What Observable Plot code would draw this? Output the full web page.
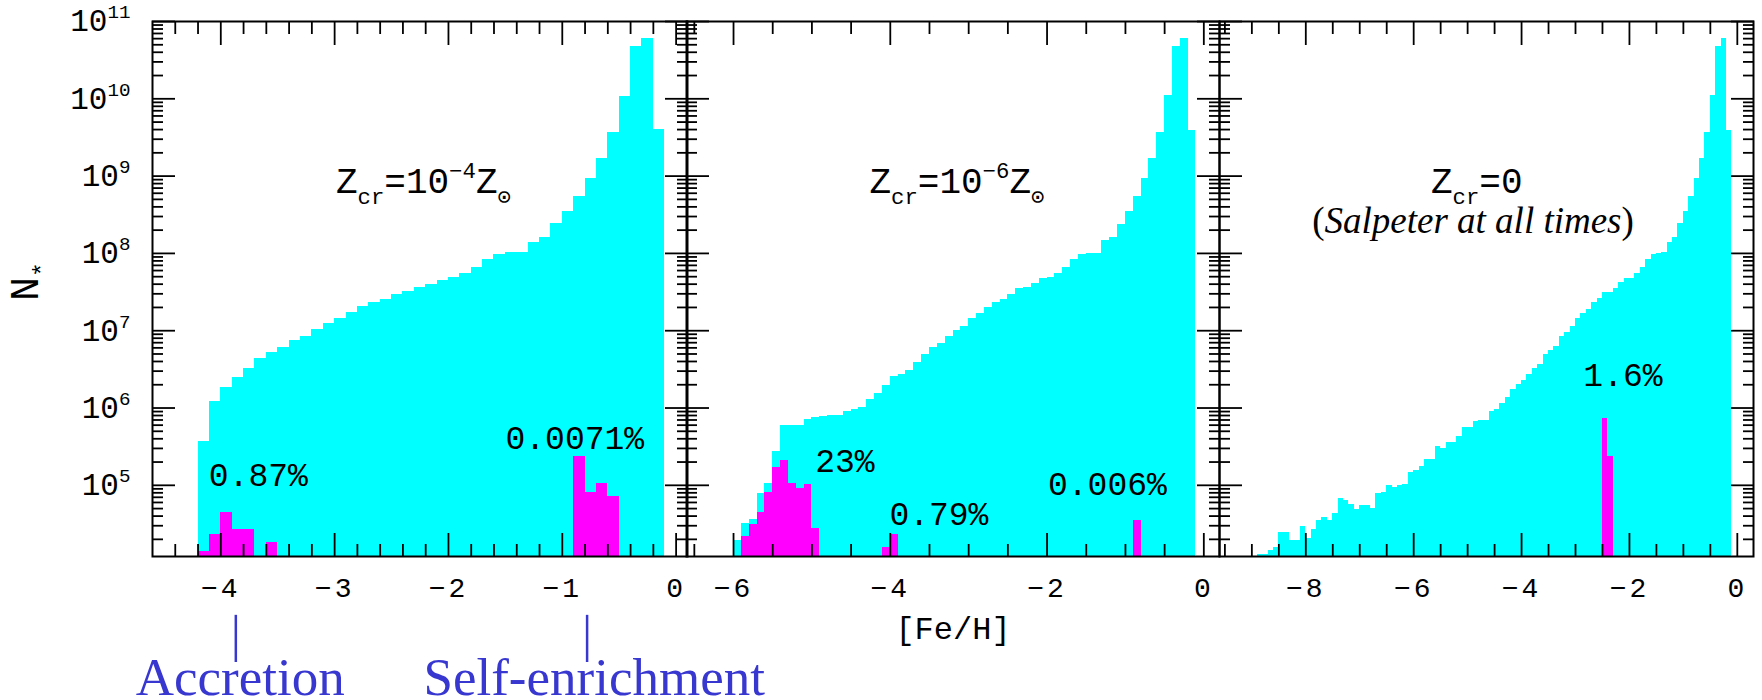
<!DOCTYPE html>
<html><head><meta charset="utf-8">
<script src="https://cdn.jsdelivr.net/npm/d3@7"></script>
<script src="https://cdn.jsdelivr.net/npm/@observablehq/plot@0.6"></script>
<style>
body{margin:0;background:#fff}
#chart{position:relative;width:1762px;height:700px;overflow:hidden;background:#fff}
#chart svg{position:absolute;top:0}
g[aria-label="x-axis tick label"] text{letter-spacing:3px}
</style></head><body><div id="chart"></div>
<script>
// ---------- data ----------
const BIN = 0.1;
const Y_MIN = 1.2e4, Y_MAX = 1e11;
const Y_MAJOR = [1e5, 1e6, 1e7, 1e8, 1e9, 1e10, 1e11];
const Y_TICK_LABELS = ["10^{5}", "10^{6}", "10^{7}", "10^{8}", "10^{9}", "10^{10}", "10^{11}"];

// Panel 1: Zcr = 1e-4 Zsun
const P1_FE = [-4.2,-4.1,-4.0,-3.9,-3.8,-3.7,-3.6,-3.5,-3.4,-3.3,-3.2,-3.1,-3.0,-2.9,-2.8,-2.7,-2.6,-2.5,-2.4,-2.3,-2.2,-2.1,-2.0,-1.9,-1.8,-1.7,-1.6,-1.5,-1.4,-1.3,-1.2,-1.1,-1.0,-0.9,-0.8,-0.7,-0.6,-0.5,-0.4,-0.3,-0.2];
const P1_N = [3.7e5,1.23e6,1.82e6,2.45e6,3.24e6,4.37e6,5.25e6,6.03e6,7.41e6,8.51e6,1.05e7,1.23e7,1.45e7,1.74e7,2.04e7,2.29e7,2.51e7,2.95e7,3.24e7,3.63e7,3.98e7,4.47e7,4.9e7,5.5e7,6.6e7,8.3e7,9.8e7,1.02e8,1.02e8,1.38e8,1.62e8,2.45e8,3.47e8,5.5e8,9.3e8,1.7e9,3.7e9,1.07e10,4.7e10,6.0e10,4.0e9];
const P1_MFE = [-4.2,-4.1,-4.0,-3.9,-3.8,-3.6,-0.9,-0.8,-0.7,-0.6];
const P1_MN = [1.38e4,2.3e4,4.5e4,2.7e4,2.7e4,1.8e4,2.35e5,8.1e4,1.07e5,7.1e4];

// Panel 2: Zcr = 1e-6 Zsun
const P2_FE = [-6.0,-5.9,-5.8,-5.7,-5.6,-5.5,-5.4,-5.3,-5.2,-5.1,-5.0,-4.9,-4.8,-4.7,-4.6,-4.5,-4.4,-4.3,-4.2,-4.1,-4.0,-3.9,-3.8,-3.7,-3.6,-3.5,-3.4,-3.3,-3.2,-3.1,-3.0,-2.9,-2.8,-2.7,-2.6,-2.5,-2.4,-2.3,-2.2,-2.1,-2.0,-1.9,-1.8,-1.7,-1.6,-1.5,-1.4,-1.3,-1.2,-1.1,-1.0,-0.9,-0.8,-0.7,-0.6,-0.5,-0.4,-0.3,-0.2];
const P2_N = [1.95e4,3.2e4,3.6e4,7.8e4,1.07e5,2.7e5,6.0e5,5.9e5,5.9e5,7.2e5,
  7.6e5,7.8e5,7.9e5,8.1e5,8.9e5,9.5e5,1.02e6,1.29e6,1.55e6,1.95e6,
  2.57e6,2.75e6,3.1e6,3.9e6,4.9e6,6.0e6,6.9e6,8.3e6,1.0e7,1.12e7,
  1.45e7,1.66e7,2.0e7,2.29e7,2.51e7,2.95e7,3.47e7,3.63e7,4.07e7,4.68e7,
  4.9e7,5.5e7,6.5e7,8.3e7,9.8e7,1.0e8,1.0e8,1.45e8,1.62e8,2.4e8,
  3.47e8,5.5e8,9.3e8,1.7e9,3.7e9,1.1e10,4.7e10,6.0e10,3.9e9];
const P2_MFE = [-5.9,-5.8,-5.7,-5.6,-5.5,-5.4,-5.3,-5.2,-5.1,-5.0,-4.1,-4.0,-0.9];
const P2_MN = [2.2e4,3.1e4,4.4e4,8.1e4,1.7e5,2.1e5,1.07e5,9.1e4,1.02e5,2.8e4,1.55e4,2.3e4,3.5e4];

// Panel 3: Zcr = 0
const P3_FE = [-8.9,-8.8,-8.7,-8.6,-8.5,-8.4,-8.3,-8.2,-8.1,-8.0,-7.9,-7.8,-7.7,-7.6,-7.5,-7.4,-7.3,-7.2,-7.1,-7.0,-6.9,-6.8,-6.7,-6.6,-6.5,-6.4,-6.3,-6.2,-6.1,-6.0,-5.9,-5.8,-5.7,-5.6,-5.5,-5.4,-5.3,-5.2,-5.1,-5.0,-4.9,-4.8,-4.7,-4.6,-4.5,-4.4,-4.3,-4.2,-4.1,-4.0,-3.9,-3.8,-3.7,-3.6,-3.5,-3.4,-3.3,-3.2,-3.1,-3.0,-2.9,-2.8,-2.7,-2.6,-2.5,-2.4,-2.3,-2.2,-2.1,-2.0,-1.9,-1.8,-1.7,-1.6,-1.5,-1.4,-1.3,-1.2,-1.1,-1.0,-0.9,-0.8,-0.7,-0.6,-0.5,-0.4,-0.3,-0.2];
const P3_N = [1.26e4,1.26e4,1.45e4,1.58e4,2.45e4,2.45e4,1.95e4,1.95e4,2.95e4,2.04e4,
  2.7e4,3.47e4,3.8e4,3.47e4,4.37e4,6.8e4,6.3e4,5.6e4,4.9e4,5.5e4,
  5.5e4,5.0e4,7.8e4,8.1e4,9.8e4,9.3e4,9.8e4,1.02e5,1.48e5,1.55e5,
  1.74e5,2.19e5,2.19e5,3.16e5,3.0e5,3.55e5,3.55e5,4.27e5,5.6e5,5.6e5,
  6.6e5,6.9e5,6.9e5,9.1e5,9.5e5,1.15e6,1.35e6,1.74e6,2.04e6,2.29e6,
  2.75e6,3.24e6,3.7e6,4.9e6,5.6e6,6.3e6,8.3e6,9.5e6,1.12e7,1.45e7,
  1.66e7,1.9e7,2.29e7,2.63e7,3.09e7,3.09e7,3.47e7,4.17e7,4.79e7,4.79e7,
  5.5e7,6.6e7,8.3e7,9.8e7,1.0e8,1.02e8,1.38e8,1.62e8,2.45e8,3.47e8,
  5.5e8,9.3e8,1.7e9,3.7e9,1.1e10,4.7e10,6.0e10,3.9e9];
const P3_MFE = [-2.5,-2.4];
const P3_MN = [7.4e5,2.35e5];

// tick values
const P1_XMAJOR = [-4, -3, -2, -1, 0];
const P2_XMAJOR = [-6, -4, -2, 0];
const P3_XMAJOR = [-8, -6, -4, -2, 0];

// annotations
const TITLES = ["Z_{cr}=10^{−4}Z_{⊙}", "Z_{cr}=10^{−6}Z_{⊙}", "Z_{cr}=0"];
const SUBTITLE3 = "(~{Salpeter at all times})";
const PCT1 = [{t: "0.87%", x: -3.67, y: 1.35e5}, {t: "0.0071%", x: -0.89, y: 4.1e5}];
const PCT2 = [{t: "23%", x: -4.58, y: 2.04e5}, {t: "0.79%", x: -3.38, y: 4.2e4}, {t: "0.006%", x: -1.23, y: 1.02e5}];
const PCT3 = [{t: "1.6%", x: -2.12, y: 2.6e6}];
const NOTES = [{t: "Accretion", x: -3.83, line: -3.868}, {t: "Self-enrichment", x: -0.72, line: -0.782}];

// ---------- drawing ----------
const CYAN = "#00ffff", MAGENTA = "#ff00ff", BLUE = "#3838d0";
const MONO = "Liberation Mono, DejaVu Sans Mono, monospace";
const SERIF = "Liberation Serif, DejaVu Serif, serif";
const Y_MINOR = [1e4,1e5,1e6,1e7,1e8,1e9,1e10].flatMap(d => [2,3,4,5,6,7,8,9].map(k => k * d)).filter(v => v > Y_MIN && v < Y_MAX);
const minusFmt = d => d < 0 ? "−" + (-d) : String(d);

function minorX(domain, step, majors) {
  const out = [];
  for (let v = Math.ceil(domain[0] / step) * step; v < domain[1]; v += step) {
    const r = Math.round(v * 100) / 100;
    if (r > domain[0] + 1e-9 && !majors.some(m => Math.abs(m - r) < 1e-6)) out.push(r);
  }
  return out;
}

function panel(cfg) {
  const {left, width, marginLeft, marginRight, domain, fe, n, mfe, mn, xMajor, xStep, extra} = cfg;
  const xMinor = minorX(domain, xStep, xMajor);
  const tk = {strokeWidth: 1.8, tickFormat: () => "", label: null};
  const marks = [
    Plot.rect(d3.range(fe.length), {x1: i => fe[i], x2: i => fe[i] + BIN, y1: Y_MIN, y2: i => n[i], fill: CYAN, shapeRendering: "crispEdges"}),
    Plot.rect(d3.range(mfe.length), {x1: i => mfe[i], x2: i => mfe[i] + BIN, y1: Y_MIN, y2: i => mn[i], fill: MAGENTA, shapeRendering: "crispEdges"}),
    Plot.axisX(xMajor, {...tk, anchor: "bottom", tickSize: -23}),
    Plot.axisX(xMinor, {...tk, anchor: "bottom", tickSize: -12}),
    Plot.axisX(xMajor, {...tk, anchor: "top", tickSize: -23}),
    Plot.axisX(xMinor, {...tk, anchor: "top", tickSize: -12}),
    Plot.axisX(xMajor, {anchor: "bottom", tickSize: 0, tickPadding: 21, tickFormat: minusFmt, fontSize: 28, fontFamily: MONO, label: null}),
    Plot.axisY(Y_MAJOR, {...tk, anchor: "left", tickSize: -23}),
    Plot.axisY(Y_MINOR, {...tk, anchor: "left", tickSize: -11}),
    Plot.axisY(Y_MAJOR, {...tk, anchor: "right", tickSize: -23}),
    Plot.axisY(Y_MINOR, {...tk, anchor: "right", tickSize: -11}),
    Plot.frame({stroke: "black", strokeWidth: 2}),
    ...extra
  ];
  const svg = Plot.plot({
    width, height: 700, marginLeft, marginRight, marginTop: 21, marginBottom: 144,
    x: {domain},
    y: {type: "log", domain: [Y_MIN, Y_MAX]},
    style: {background: "transparent", overflow: "visible", fontFamily: MONO, color: "black"},
    marks
  });
  svg.style.left = left + "px";
  return svg;
}

const pctMark = data => Plot.text(data, {x: "x", y: "y", text: "t", fontSize: 33, fontFamily: MONO, lineAnchor: "middle", fill: "black"});

const p1 = panel({
  left: 0, width: 687, marginLeft: 152, marginRight: 0, domain: [-4.6, 0.1],
  fe: P1_FE, n: P1_N, mfe: P1_MFE, mn: P1_MN, xMajor: P1_XMAJOR, xStep: 0.2,
  extra: [
    Plot.axisY(Y_MAJOR, {anchor: "left", tickSize: 0, tickPadding: 22, tickFormat: d => Y_TICK_LABELS[Y_MAJOR.indexOf(d)], fontSize: 31, fontFamily: MONO, label: null}),
    Plot.text(["N_{*}"], {text: d => d, frameAnchor: "left", dx: -127, dy: 12, rotate: -90, fontSize: 40, fontFamily: MONO, lineAnchor: "middle"}),
    Plot.text([TITLES[0]], {text: d => d, x: -2.22, y: 8.4e8, fontSize: 36, fontFamily: MONO, lineAnchor: "middle"}),
    pctMark(PCT1),
    Plot.ruleX(NOTES, {x: "line", y1: 2.08e3, y2: 5.1e2, stroke: BLUE, strokeWidth: 2.5}),
    Plot.text(NOTES, {x: "x", y: 1.92e2, text: "t", fontSize: 53, fontFamily: SERIF, fill: BLUE, lineAnchor: "bottom"})
  ]
});
const p2 = panel({
  left: 686, width: 533, marginLeft: 0, marginRight: 0, domain: [-6.6, 0.2],
  fe: P2_FE, n: P2_N, mfe: P2_MFE, mn: P2_MN, xMajor: P2_XMAJOR, xStep: 0.5,
  extra: [
    Plot.text([TITLES[1]], {text: d => d, x: -3.15, y: 8.4e8, fontSize: 36, fontFamily: MONO, lineAnchor: "middle"}),
    pctMark(PCT2),
    Plot.text(["[Fe/H]"], {text: d => d, frameAnchor: "bottom", dy: 72, fontSize: 32, fontFamily: MONO, lineAnchor: "middle"})
  ]
});
const p3 = panel({
  left: 1219, width: 543, marginLeft: 0, marginRight: 9, domain: [-9.6, 0.3],
  fe: P3_FE, n: P3_N, mfe: P3_MFE, mn: P3_MN, xMajor: P3_XMAJOR, xStep: 0.5,
  extra: [
    Plot.text([TITLES[2]], {text: d => d, x: -4.83, y: 8.4e8, fontSize: 36, fontFamily: MONO, lineAnchor: "middle"}),
    Plot.text([SUBTITLE3], {text: d => d, x: -4.9, y: 2.6e8, fontSize: 37, fontFamily: SERIF, lineAnchor: "middle"}),
    pctMark(PCT3)
  ]
});

const chart = document.getElementById("chart");
[p1, p2, p3].forEach(s => chart.appendChild(s));

// rich text: _{sub}, ^{sup}, ~{italic}
function rich(svg) {
  svg.querySelectorAll("text").forEach(t => {
    const s = t.textContent;
    if (!/[_^~]\{/.test(s)) return;
    const fs = parseFloat(getComputedStyle(t).fontSize) || 30;
    while (t.firstChild) t.removeChild(t.firstChild);
    let shift = 0;
    const add = (txt, kind) => {
      if (!txt) return;
      const sp = document.createElementNS("http://www.w3.org/2000/svg", "tspan");
      let target = 0, size = null;
      if (kind === "_") { target = 0.3 * fs; size = 0.62 * fs; }
      else if (kind === "^") { target = -0.42 * fs; size = 0.62 * fs; }
      if (kind === "~") sp.setAttribute("font-style", "italic");
      const d = target - shift;
      if (d) sp.setAttribute("dy", d.toFixed(2));
      shift = target;
      if (size) sp.setAttribute("font-size", size.toFixed(2));
      sp.textContent = txt;
      t.appendChild(sp);
    };
    const re = /([_^~])\{([^}]*)\}/g;
    let last = 0, m;
    while ((m = re.exec(s))) { add(s.slice(last, m.index), ""); add(m[2], m[1]); last = re.lastIndex; }
    add(s.slice(last), "");
  });
}
[p1, p2, p3].forEach(rich);
</script></body></html>
